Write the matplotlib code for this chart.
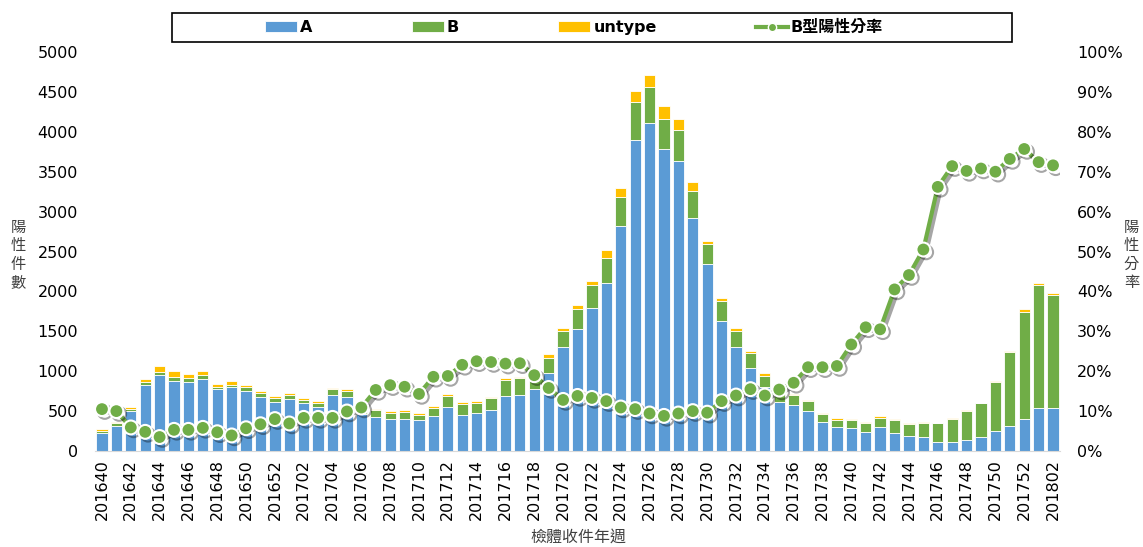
import numpy as np
import matplotlib.pyplot as plt
import matplotlib.patheffects as pe
from matplotlib.lines import Line2D
from matplotlib.patches import Rectangle

plt.rcParams["font.family"] = ["DejaVu Sans", "Noto Sans CJK TC"]

# weekly counts
weeks = (
    [f"2016{w}" for w in range(40, 53)]
    + [f"2017{w:02d}" for w in range(1, 53)]
    + ["201801", "201802"]
)

type_a = [230, 313, 501, 823, 948, 881, 861, 898, 773, 798, 756, 681, 610,
          656, 597, 555, 706, 681, 460, 430, 397, 397, 388, 438, 555, 455,
          472, 510, 685, 702, 773, 973, 1299, 1525, 1788, 2101, 2819, 3893,
          4110, 3780, 3630, 2920, 2339, 1633, 1299, 1036, 806, 618, 574, 497,
          367, 305, 284, 234, 297, 230, 186, 171, 109, 109, 138, 171, 251,
          317, 397, 543, 535]
type_b = [25, 34, 29, 45, 42, 50, 50, 58, 33, 33, 46, 50, 54,
          50, 46, 46, 67, 75, 55, 84, 83, 87, 59, 105, 138, 130,
          133, 150, 205, 209, 140, 196, 201, 258, 288, 321, 368, 484,
          451, 384, 396, 342, 259, 243, 208, 192, 138, 105, 126, 130,
          97, 83, 104, 113, 120, 162, 158, 184, 238, 296, 363, 426, 617,
          920, 1349, 1533, 1416]
untype = [17, 16, 17, 30, 75, 71, 58, 50, 37, 46, 21, 25, 25,
          21, 21, 26, 20, 25, 12, 16, 25, 34, 25, 21, 21, 25,
          25, 17, 25, 12, 14, 46, 41, 46, 54, 97, 105, 138,
          150, 163, 138, 109, 37, 41, 34, 25, 29, 8, 20, 16,
          12, 21, 13, 16, 18, 5, 3, 12, 3, 3, 17, 4, 8,
          16, 33, 29, 25]
b_rate = [10.5, 10.0, 5.9, 4.8, 3.5, 5.3, 5.3, 5.8, 4.7, 3.9, 5.7, 6.7, 8.0,
          6.9, 8.3, 8.3, 8.3, 9.9, 10.9, 15.3, 16.5, 16.1, 14.3, 18.6, 18.8,
          21.6, 22.5, 22.3, 21.9, 22.0, 19.0, 15.8, 12.8, 13.8, 13.3, 12.5,
          10.9, 10.5, 9.4, 8.8, 9.4, 10.0, 9.6, 12.5, 13.9, 15.5, 13.9, 15.4,
          17.1, 21.0, 21.0, 21.3, 26.7, 31.0, 30.5, 40.5, 44.1, 50.5, 66.2,
          71.4, 70.2, 70.8, 70.0, 73.2, 75.7, 72.4, 71.6]

c_a = "#5B9BD5"
c_b = "#70AD47"
c_u = "#FFC000"

a = np.array(type_a)
b = np.array(type_b)
u = np.array(untype)
x = np.arange(len(weeks))

fig = plt.figure(figsize=(11.43, 5.47), dpi=100)
ax = fig.add_axes([0.0829, 0.1755, 0.8447, 0.7294])
ax2 = ax.twinx()

ax.bar(x, a, 0.78, color=c_a, edgecolor="white", linewidth=0.6, label="A")
ax.bar(x, b, 0.78, bottom=a, color=c_b, edgecolor="white", linewidth=0.6, label="B")
ax.bar(x, u, 0.78, bottom=a + b, color=c_u, edgecolor="white", linewidth=0.6, label="untype")

ax2.plot(
    x, np.array(b_rate) / 100,
    color=c_b, linewidth=3, marker="o", markersize=10,
    markerfacecolor=c_b, markeredgecolor="white", markeredgewidth=1.5,
    path_effects=[pe.SimpleLineShadow(offset=(2, -2), alpha=0.35), pe.Normal()],
)

ax.set_xlim(-0.5, len(weeks) - 0.5)
ax.set_ylim(0, 5000)
ax.set_yticks(np.arange(0, 5001, 500))
ax2.set_ylim(0, 1)
ax2.set_yticks(np.arange(0, 1.01, 0.1))
ax2.set_yticklabels([f"{int(round(v * 100))}%" for v in np.arange(0, 1.01, 0.1)])

ax.set_xticks(x[::2])
ax.set_xticklabels(weeks[::2], rotation=90, fontsize=11.5)
ax.tick_params(axis="y", labelsize=11.5, length=0, pad=12)
ax2.tick_params(axis="y", labelsize=11.5, length=0, pad=12)
ax.tick_params(axis="x", length=0, pad=6)

for s in ["top", "left", "right"]:
    ax.spines[s].set_visible(False)
    ax2.spines[s].set_visible(False)
ax.spines["bottom"].set_color("#D9D9D9")
ax2.spines["bottom"].set_visible(False)

fig.text(0.016, 0.534, "陽\n性\n件\n數", fontsize=11, color="#404040",
         ha="center", va="center", linespacing=1.1, family="Noto Sans CJK TC")
fig.text(0.99, 0.534, "陽\n性\n分\n率", fontsize=11, color="#404040",
         ha="center", va="center", linespacing=1.1, family="Noto Sans CJK TC")
fig.text(0.506, 0.018, "檢體收件年週", fontsize=11.5, color="#404040",
         ha="center", va="center", family="Noto Sans CJK TC")

# legend box drawn separately so the items can sit inside a wider frame
fig.patches.append(Rectangle((0.1505, 0.9232), 0.7349, 0.053, transform=fig.transFigure,
                             fill=False, edgecolor="black", linewidth=1.2))
h1, l1 = ax.get_legend_handles_labels()
line_handle = Line2D([], [], color=c_b, linewidth=3, marker="o", markersize=6,
                     markerfacecolor=c_b, markeredgecolor="white", markeredgewidth=1)
leg = fig.legend(
    h1 + [line_handle], l1 + ["B型陽性分率"], loc="center left",
    bbox_to_anchor=(0.232, 0.9497),
    ncol=4, frameon=False,
    prop={"weight": "bold", "size": 11.5, "family": ["DejaVu Sans", "Noto Sans CJK TC"]},
    handlelength=2.0, handletextpad=0.2, columnspacing=6.2, borderpad=0,
    borderaxespad=0,
)

fig.savefig("out.png", dpi=100)
